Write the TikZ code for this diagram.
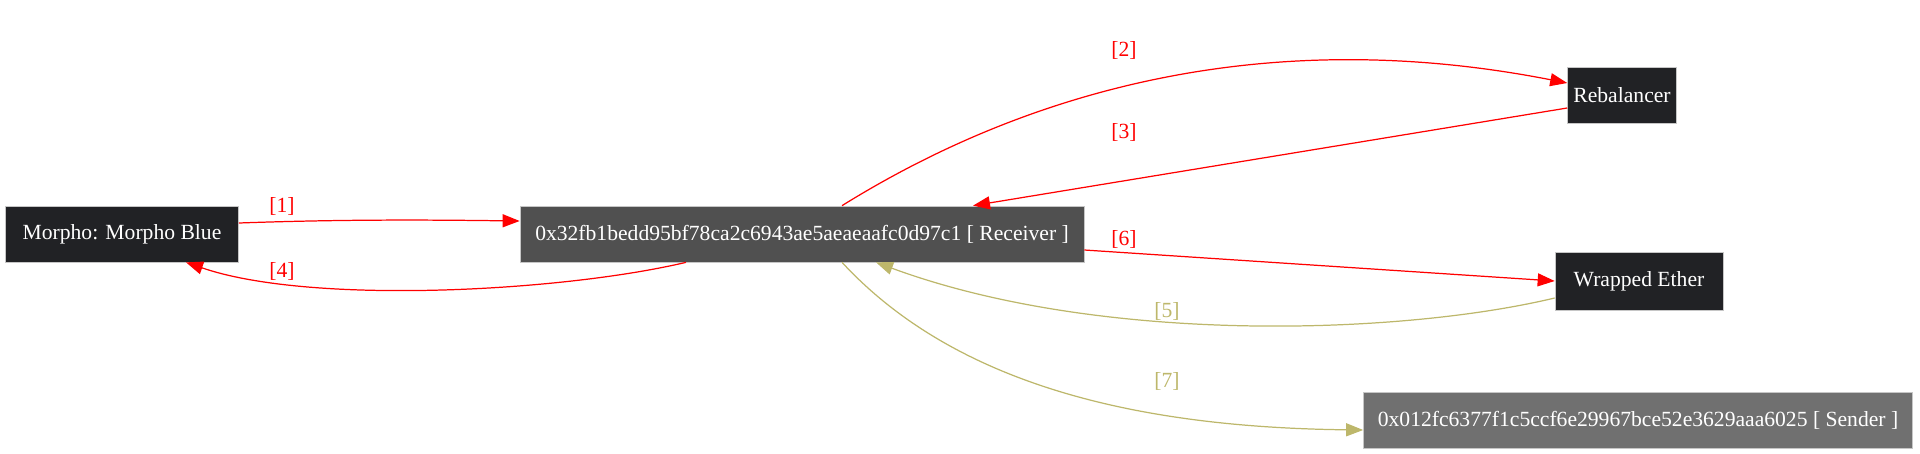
\documentclass[tikz,border=0pt]{standalone}
\usepackage{fontspec}
\setmainfont{Liberation Serif}
\usetikzlibrary{
  positioning,
  arrows.meta
}
\definecolor{boxdark}{HTML}{212225}
\definecolor{boxmid}{HTML}{505050}
\definecolor{boxlight}{HTML}{707070}
\definecolor{flowred}{HTML}{FF0000}
\definecolor{flowkhaki}{HTML}{BDB76B}

\begin{document}
\begin{tikzpicture}[
  box/.style={
    draw=gray!45,
    line width=0.4pt,
    minimum height=1.12cm,
    align=center,
    text=white,
    font=\fontsize{12.3pt}{14pt}\selectfont
  },
  account/.style={box, fill=boxdark},
  receiverbox/.style={box, fill=boxmid},
  senderbox/.style={box, fill=boxlight},
  flow/.style={-{Triangle[length=0.34cm, width=0.26cm]}, line width=0.7pt},
  redflow/.style={flow, draw=flowred},
  khakiflow/.style={flow, draw=flowkhaki},
  tag/.style={font=\fontsize{12.3pt}{14pt}\selectfont, inner sep=1pt}
]

% Canvas
\useasboundingbox (0,0) rectangle (38.4,-9.06);

% ==================== ACCOUNTS ====================
\node[account, minimum width=4.66cm] (morpho) at (2.44,-4.68) {Morpho: Morpho Blue};

\node[receiverbox, minimum width=11.28cm] (receiver) at (16.04,-4.68) {0x32fb1bedd95bf78ca2c6943ae5aeaeaafc0d97c1 [ Receiver ]};

\node[account, minimum width=1.98cm] (rebal) at (32.44,-1.90) {Rebalancer};

\node[account, minimum width=3.36cm, minimum height=1.16cm] (weth) at (32.78,-5.62) {Wrapped Ether};

\node[senderbox, minimum width=10.98cm] (sender) at (32.76,-8.40) {0x012fc6377f1c5ccf6e29967bce52e3629aaa6025 [ Sender ]};

% ==================== TRANSFERS ====================
% [1] Morpho -> Receiver
\draw[redflow] ([yshift=0.22cm]morpho.east) .. controls (7.0,-4.38) and (8.8,-4.40) .. ([yshift=0.26cm]receiver.west);
\node[tag, text=flowred] (lbl1) at (5.64,-4.12) {[1]};

% [2] Receiver -> Rebalancer
\draw[redflow] ([xshift=0.8cm]receiver.north) .. controls (19.6,-2.4) and (24.4,-0.3) .. ([yshift=0.24cm]rebal.west);
\node[tag, text=flowred] (lbl2) at (22.48,-1.0) {[2]};

% [3] Rebalancer -> Receiver
\draw[redflow] ([yshift=-0.26cm]rebal.west) -- ([xshift=3.42cm]receiver.north);
\node[tag, text=flowred] (lbl3) at (22.48,-2.64) {[3]};

% [4] Receiver -> Morpho
\draw[redflow] ([xshift=-2.32cm]receiver.south) .. controls (11.2,-5.84) and (6.2,-6.10) .. ([xshift=1.28cm]morpho.south);
\node[tag, text=flowred] (lbl4) at (5.64,-5.42) {[4]};

% [5] Wrapped Ether -> Receiver
\draw[khakiflow] ([yshift=-0.34cm]weth.west) .. controls (28.0,-6.70) and (22.0,-6.90) .. ([xshift=1.48cm]receiver.south);
\node[tag, text=flowkhaki] (lbl5) at (23.34,-6.22) {[5]};

% [6] Receiver -> Wrapped Ether
\draw[redflow] ([yshift=-0.32cm]receiver.east) -- (weth.west);
\node[tag, text=flowred] (lbl6) at (22.48,-4.78) {[6]};

% [7] Receiver -> Sender
\draw[khakiflow] ([xshift=0.8cm]receiver.south) .. controls (19.2,-7.8) and (23.0,-8.55) .. ([yshift=-0.2cm]sender.west);
\node[tag, text=flowkhaki] (lbl7) at (23.34,-7.62) {[7]};

\end{tikzpicture}
\end{document}
